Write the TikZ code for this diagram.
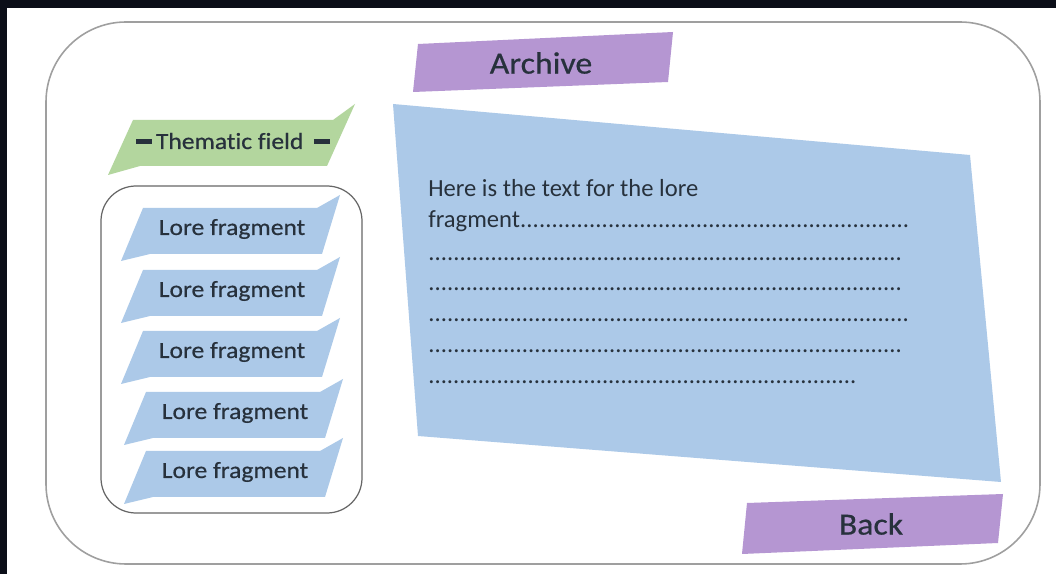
\documentclass[tikz,border=0pt]{standalone}
\usepackage{fontspec}
\setmainfont[Ligatures=NoCommon]{Carlito}
\newfontfamily\labelfont[FakeStretch=1.1, FakeBold=0.6, Ligatures=NoCommon]{Carlito}
\usetikzlibrary{calc}

\definecolor{loreblue}{HTML}{ACC9E8}
\definecolor{archpurple}{HTML}{B596D2}
\definecolor{fieldgreen}{HTML}{B3D69E}
\definecolor{inkdark}{HTML}{27313C}
\definecolor{framedark}{HTML}{0B0E18}

\newcommand{\dotrow}[2]{\makebox[#1][l]{#2\xleaders\hbox{.}\hfill}}

\begin{document}
\begin{tikzpicture}[
  x=0.02cm, y=-0.02cm,
  every path/.style={line join=round},
  panel/.style={draw=gray!75, line width=0.9pt},
  tabtext/.style={font=\labelfont\fontsize{17.5}{20}\selectfont, text=inkdark, inner sep=0pt},
  loretext/.style={font=\labelfont\fontsize{13.2}{15}\selectfont, text=inkdark, inner sep=0pt},
  bodytext/.style={font=\fontsize{14}{17.6}\selectfont, text=inkdark, inner sep=0pt, align=left}
]
\useasboundingbox (0,0) rectangle (1056,574);

% ---------------- Screen frame ----------------
\fill[white] (0,0) rectangle (1056,574);
\fill[framedark] (0,0) rectangle (1056,8);
\fill[framedark] (0,0) rectangle (7,574);

% ---------------- Outer panel ----------------
\draw[panel, rounded corners=1.6cm] (46,22) rectangle (1040,564);

% ---------------- Title and back tabs ----------------
\fill[archpurple] (418,44) -- (673,32) -- (668,82) -- (413,92) -- cycle;
\node[tabtext] (archive) at (541,63) {Archive};

\fill[archpurple] (747,503) -- (1003,494) -- (998,543) -- (742,554) -- cycle;
\node[tabtext] (back) at (871,524) {Back};

% ---------------- Thematic field banner ----------------
\fill[fieldgreen] (133,120) -- (333,120) -- (355,104) -- (327,166)
  -- (140,166) -- (108,175) -- cycle;
\node[loretext] (field) at (233,141)
  {\raisebox{0.22em}{\rule{9pt}{2.6pt}}\,Thematic field\hspace{0.45em}\raisebox{0.22em}{\rule{9pt}{2.6pt}}};

% ---------------- Fragment list ----------------
\draw[draw=gray!80!black, line width=0.7pt, rounded corners=0.7cm] (101,186) rectangle (362,513);
\foreach \cy/\dx [count=\k] in {231/0, 293/0, 354/0, 415/3, 474/3} {
  \begin{scope}[shift={(232+\dx,\cy)}]
    \fill[loreblue] (-89,-23) -- (85,-23) -- (108,-36) -- (90,23)
      -- (-82,23) -- (-111,30) -- cycle;
    \node[loretext] (lore\k) at (0,-2) {Lore fragment};
  \end{scope}
}

% ---------------- Fragment text page ----------------
\fill[loreblue] (393,104) -- (970,155) -- (1001,482) -- (418,436) -- cycle;
\node[bodytext, anchor=north west] (body) at (428,179) {%
  Here is the text for the lore\\
  \dotrow{274pt}{fragment}\\[1pt]
  \dotrow{270pt}{}\\
  \dotrow{270pt}{}\\
  \dotrow{274pt}{}\\
  \dotrow{270pt}{}\\
  \dotrow{244pt}{}};

\end{tikzpicture}
\end{document}
